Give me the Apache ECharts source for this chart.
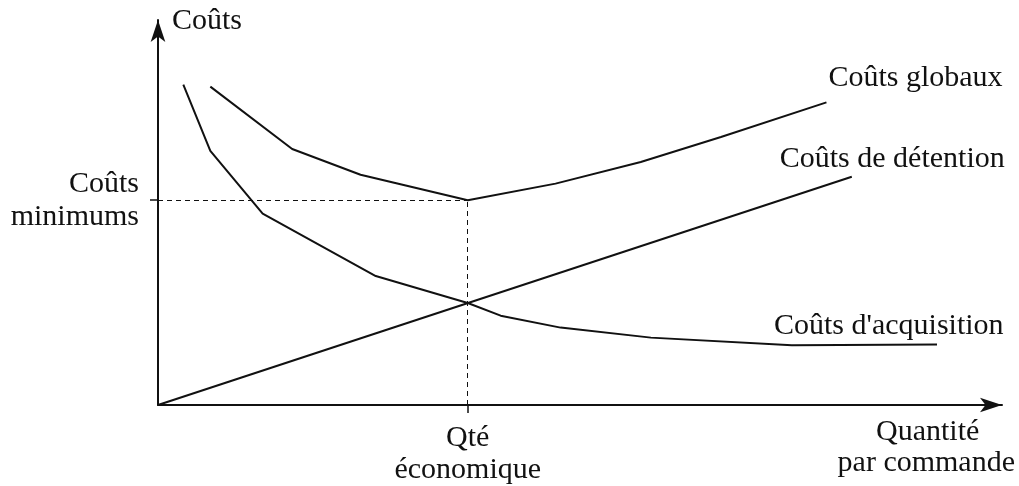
<!DOCTYPE html>
<html>
<head>
<meta charset="utf-8">
<script src="https://cdn.jsdelivr.net/npm/echarts@6/dist/echarts.min.js"></script>
<style>
  html, body { margin: 0; padding: 0; background: #fff; }
  #main { width: 1019px; height: 486px; }
</style>
</head>
<body>
<div id="main"></div>
<script>
// quantité par commande (x) / coûts (y), unités arbitraires 0-100
var globauxX = [6.2, 15.9, 24.0, 36.7, 47.1, 57.2, 66.7, 79.2];
var globauxY = [82.7, 66.5, 59.8, 53.2, 57.5, 63.1, 69.6, 78.6];
var acquisitionX = [3.0, 6.2, 12.4, 25.8, 36.7, 40.6, 47.7, 58.4, 75.1, 92.3];
var acquisitionY = [83.2, 66.0, 49.7, 33.5, 26.5, 23.2, 20.1, 17.5, 15.5, 15.7];
var detentionX = [0, 82.2];
var detentionY = [0, 59.3];
var qteEco = 36.7;
var coutMin = 53.2;

var font = 'Liberation Serif';
var ink = '#111';
var taille = 30;

function pairs(xs, ys) {
    var out = [];
    for (var i = 0; i < xs.length; i++) {
        out.push([xs[i], ys[i]]);
    }
    return out;
}

function courbe(nom, xs, ys, offset) {
    return {
        name: nom,
        type: 'line',
        data: pairs(xs, ys),
        symbol: 'none',
        smooth: false,
        lineStyle: { color: ink, width: 2 },
        endLabel: {
            show: true,
            formatter: nom,
            color: ink,
            fontFamily: font,
            fontSize: taille,
            align: 'left',
            distance: 0,
            offset: offset
        }
    };
}

var myChart = echarts.init(document.getElementById('main'));

var option = {
    backgroundColor: '#fff',
    animation: false,
    grid: { left: 158, right: 17, top: 20, bottom: 80 },
    xAxis: {
        type: 'value',
        min: 0,
        max: 100,
        splitLine: { show: false },
        axisLine: {
            show: true,
            symbol: ['none', 'arrow'],
            symbolSize: [11, 22],
            lineStyle: { color: ink, width: 2 }
        },
        axisTick: {
            show: true,
            customValues: [qteEco],
            length: 8,
            lineStyle: { color: ink, width: 1.5 }
        },
        axisLabel: {
            show: true,
            customValues: [qteEco],
            formatter: function () { return 'Qté\néconomique'; },
            color: ink,
            fontFamily: font,
            fontSize: taille,
            lineHeight: 32,
            margin: 17
        }
    },
    yAxis: {
        type: 'value',
        min: 0,
        max: 100,
        splitLine: { show: false },
        axisLine: {
            show: true,
            symbol: ['none', 'arrow'],
            symbolSize: [11, 22],
            lineStyle: { color: ink, width: 2 }
        },
        axisTick: {
            show: true,
            customValues: [coutMin],
            length: 8,
            lineStyle: { color: ink, width: 1.5 }
        },
        axisLabel: {
            show: true,
            customValues: [coutMin],
            formatter: function () { return 'Coûts\nminimums'; },
            color: ink,
            fontFamily: font,
            fontSize: taille,
            lineHeight: 33,
            align: 'right',
            margin: 19
        }
    },
    graphic: [
        { type: 'text', left: 172, top: 6, style: { text: 'Coûts', fill: ink, font: taille + 'px "Liberation Serif"' } },
        { type: 'text', left: 876, top: 417, style: { text: 'Quantité', fill: ink, font: taille + 'px "Liberation Serif"' } },
        { type: 'text', right: 4, top: 448, style: { text: 'par commande', fill: ink, font: taille + 'px "Liberation Serif"' } }
    ],
    series: [
        courbe('Coûts globaux', globauxX, globauxY, [2, -24]),
        courbe('Coûts de détention', detentionX, detentionY, [-72, -18]),
        courbe("Coûts d'acquisition", acquisitionX, acquisitionY, [-163, -18]),
        {
            type: 'line',
            data: [],
            markLine: {
                silent: true,
                symbol: 'none',
                label: { show: false },
                lineStyle: { color: ink, width: 1, type: [5, 4] },
                data: [
                    [{ coord: [0, coutMin] }, { coord: [qteEco, coutMin] }],
                    [{ coord: [qteEco, 0] }, { coord: [qteEco, coutMin] }]
                ]
            }
        }
    ]
};

myChart.setOption(option);
</script>
</body>
</html>
